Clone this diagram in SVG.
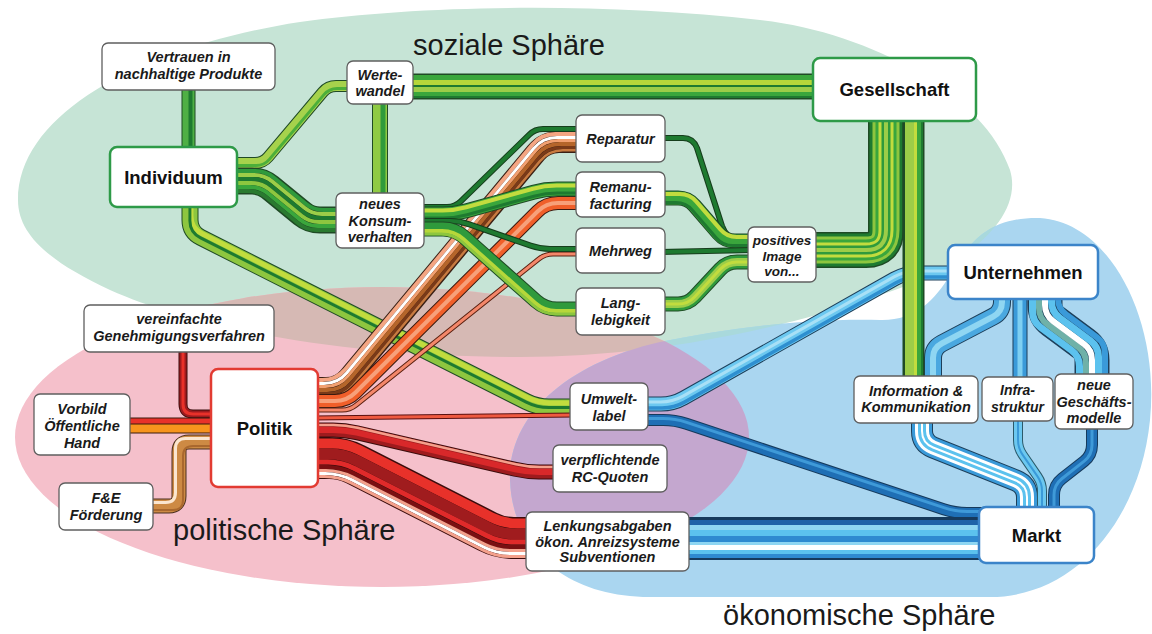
<svg xmlns="http://www.w3.org/2000/svg" xmlns:xlink="http://www.w3.org/1999/xlink" width="1152" height="634" viewBox="0 0 1152 634">
<style>
.c{fill:none;stroke-linejoin:round;stroke-linecap:butt}
.box{fill:#fff;stroke:#5f5f5f;stroke-width:1.3}
.gb{fill:#fff;stroke:#2e9a48;stroke-width:2.5}
.rb{fill:#fff;stroke:#e23b32;stroke-width:2.5}
.bb{fill:#fff;stroke:#3b84c9;stroke-width:2.5}
.t{font-family:"Liberation Sans",Arial,sans-serif;font-size:14.5px;font-weight:bold;font-style:italic;text-anchor:middle;fill:#1a1a1a}
.tm{font-family:"Liberation Sans",Arial,sans-serif;font-size:18.5px;font-weight:bold;text-anchor:middle;fill:#111}
.sph{font-family:"Liberation Sans",Arial,sans-serif;font-size:29px;fill:#1a1a1a}
</style>
<defs>
<path id="gShape" d="M18,200 C18,110 150,45 300,22 C420,5 600,2 760,20 C870,32 985,95 1010,170 C1025,220 960,270 880,295 C780,330 650,357 520,357 C350,357 200,330 110,290 C50,262 18,235 18,200 Z"/>
<ellipse id="pShape" cx="382" cy="437" rx="367" ry="150"/>
<path id="bShape" d="M510,480 C508,420 560,365 660,342 C720,330 800,318 880,320 C915,321 935,300 950,275 C970,240 990,217 1040,218 C1110,222 1160,320 1150,420 C1140,520 1075,597 990,597 L650,597 C565,597 512,548 510,480 Z"/>
<clipPath id="clipG"><use href="#gShape"/></clipPath>
<clipPath id="clipB"><use href="#bShape"/></clipPath>
<path id="pG2" d="M232,163 H255 Q263,163 268.2,156.9 L322.8,92.1 Q328,86 336,86 H352"/>
<path id="pG3" d="M232,181 H252 Q262,181 269.8,187.3 L302.2,213.7 Q310,220 320,220 H341"/>
<path id="pG6" d="M190,203 V220 Q190,232 200.7,237.4 L526.3,401.6 Q537,407 549,407 H575"/>
<path id="pG7" d="M419,207 H447 Q455,207 460.7,201.4 L529.3,134.6 Q535,129 543,129 H581"/>
<path id="pG8" d="M419,214 H443 Q455,214 466.6,210.8 L533.4,192.2 Q545,189 557,189 H581"/>
<path id="pG9" d="M419,221 H450 Q460,221 469.4,224.3 L530.6,245.7 Q540,249 550,249 H581"/>
<path id="pG10" d="M419,229 H443 Q455,229 464,237 L536,301 Q545,309 557,309 H581"/>
<path id="pG11" d="M660,138 H683 Q693,138 697,148 L722,226 Q727,240 740,240 H753"/>
<path id="pG12" d="M660,198 H678 Q688,198 694.5,205.6 L718.5,233.4 Q725,241 735,241 H753"/>
<path id="pG13" d="M660,252 L753,250"/>
<path id="pG14" d="M660,304 H678 Q688,304 694.8,296.7 L720.2,269.3 Q727,262 737,262 H753"/>
<path id="pG15" d="M811,250 H866 Q886,250 886,230 V116"/>
<path id="pB1" d="M643,404 H661 Q673,404 683.5,398.1 L894.5,278.9 Q905,273 917,273 H953"/>
<path id="pB2" d="M643,420 H663 Q675,420 686.4,423.8 L943.6,509.2 Q955,513 967,513 H984"/>
<path id="pB4" d="M1002,294 V302 Q1002,312 993.1,316.6 L941.9,343.4 Q933,348 933,358 V381"/>
<path id="pB6" d="M1045,288 V305 Q1045,315 1053,321 L1084,344 Q1092,350 1092,360 V384"/>
<path id="pB7" d="M922,418 V431 Q922,443 933.1,447.5 L1015.9,480.5 Q1027,485 1027,497 V512"/>
<path id="pB8" d="M1018,416 V440 Q1018,448 1022.5,454.6 L1037.5,476.4 Q1042,483 1042,491 V512"/>
<path id="pB9" d="M1092,424 V445 Q1092,455 1084.2,461.2 L1061.8,478.8 Q1054,485 1054,495 V512"/>
<path id="pR1" d="M183,347 V404 Q183,414 193,414 H216"/>
<path id="pR3" d="M148,506 H169 Q179,506 179,496 V452 Q179,442 189,442 H216"/>
<path id="pR4" d="M313,388 H326 Q340,388 349,377.2 L536,152.8 Q545,142 559,142 H581"/>
<path id="pR5" d="M313,401 H335 Q347,401 355.5,392.5 L537.5,211.5 Q546,203 558,203 H581"/>
<path id="pR6" d="M313,410 H342 Q350,410 356.2,405 L538.8,259 Q545,254 553,254 H581"/>
<path id="pR7" d="M313,418 L575,415"/>
<path id="pR8" d="M313,430 H333 Q345,430 356.7,432.7 L515.3,469.3 Q527,472 539,472 H558"/>
<path id="pR9" d="M313,458 H329 Q343,458 355.5,464.4 L487.5,531.6 Q500,538 514,538 H531"/>
</defs>

<g id="spheres">
<use href="#gShape" fill="#c6e4d6"/>
<use href="#pShape" fill="#f5c0cb"/>
<use href="#bShape" fill="#aad6f0"/>
<use href="#bShape" fill="#a9d9dc" clip-path="url(#clipG)"/>
<use href="#pShape" fill="#d6b9b4" clip-path="url(#clipG)"/>
<use href="#pShape" fill="#c4a7cf" clip-path="url(#clipB)"/>
<text class="sph" x="413" y="55">soziale Sphäre</text>
<text class="sph" x="173" y="540">politische Sphäre</text>
<text class="sph" x="723" y="625">ökonomische Sphäre</text>
</g>

<g id="connectors">
<!-- Individuum -> Umweltlabel (under red) -->
<use href="#pG6" class="c" stroke="#1f4a25" stroke-width="17"/>
<use href="#pG6" class="c" stroke="#8dc63f" stroke-width="15"/>
<use href="#pG6" class="c" stroke="#c2dc3e" stroke-width="5" transform="translate(0.95,-4)"/>
<use href="#pG6" class="c" stroke="#1e7a30" stroke-width="3" transform="translate(-0.12,0.5)"/>

<!-- red / orange -->
<use href="#pR1" class="c" stroke="#3a0c0c" stroke-width="9"/>
<use href="#pR1" class="c" stroke="#9e1b1e" stroke-width="7"/>
<use href="#pR1" class="c" stroke="#e8312a" stroke-width="3"/>
<path class="c" d="M125,425.5 H216" stroke="#3a1a0c" stroke-width="16"/>
<path class="c" d="M125,421 H216" stroke="#e8312a" stroke-width="5"/>
<path class="c" d="M125,428.5 H216" stroke="#f7941d" stroke-width="8"/>
<use href="#pR3" class="c" stroke="#4a3020" stroke-width="15"/>
<use href="#pR3" class="c" stroke="#cd8a44" stroke-width="13"/>
<use href="#pR3" class="c" stroke="#fbe6cf" stroke-width="3" transform="translate(-3.5,-3.5)"/>
<use href="#pR3" class="c" stroke="#a9682e" stroke-width="2" transform="translate(4,4)"/>
<use href="#pR4" class="c" stroke="#3a2015" stroke-width="22"/>
<use href="#pR4" class="c" stroke="#f4a582" stroke-width="4" transform="translate(-3.74,-8)"/>
<use href="#pR4" class="c" stroke="#ffffff" stroke-width="3" transform="translate(-2.1,-4.5)"/>
<use href="#pR4" class="c" stroke="#f2a070" stroke-width="3" transform="translate(-0.7,-1.5)"/>
<use href="#pR4" class="c" stroke="#b5652a" stroke-width="4" transform="translate(0.94,2)"/>
<use href="#pR4" class="c" stroke="#7a3a18" stroke-width="3" transform="translate(2.57,5.5)"/>
<use href="#pR4" class="c" stroke="#c87a40" stroke-width="2.5" transform="translate(3.9,8.3)"/>
<use href="#pR5" class="c" stroke="#3a1a10" stroke-width="14"/>
<use href="#pR5" class="c" stroke="#f05f2a" stroke-width="12"/>
<use href="#pR5" class="c" stroke="#f7a07a" stroke-width="4"/>
<use href="#pR6" class="c" stroke="#5a2010" stroke-width="5"/>
<use href="#pR6" class="c" stroke="#f4876a" stroke-width="3"/>
<use href="#pR7" class="c" stroke="#5a1010" stroke-width="5"/>
<use href="#pR7" class="c" stroke="#ee5a40" stroke-width="3"/>
<use href="#pR8" class="c" stroke="#3a0c0c" stroke-width="15"/>
<use href="#pR8" class="c" stroke="#9e1b1e" stroke-width="13"/>
<use href="#pR8" class="c" stroke="#d8282a" stroke-width="6"/>
<use href="#pR8" class="c" stroke="#f4a08c" stroke-width="2.5" transform="translate(0.56,-5)"/>
<use href="#pR9" class="c" stroke="#3a0c0c" stroke-width="42"/>
<use href="#pR9" class="c" stroke="#e8312a" stroke-width="10" transform="translate(3.5,-14.5)"/>
<use href="#pR9" class="c" stroke="#a01c1e" stroke-width="11" transform="translate(0.96,-4)"/>
<use href="#pR9" class="c" stroke="#e02a2a" stroke-width="5" transform="translate(-0.96,4)"/>
<use href="#pR9" class="c" stroke="#7a1012" stroke-width="4" transform="translate(-2.16,9)"/>
<use href="#pR9" class="c" stroke="#f4a08c" stroke-width="3" transform="translate(-3,12.5)"/>
<use href="#pR9" class="c" stroke="#ffffff" stroke-width="3" transform="translate(-3.72,15.5)"/>
<use href="#pR9" class="c" stroke="#f4a08c" stroke-width="3" transform="translate(-4.44,18.5)"/>

<!-- green -->
<path class="c" d="M188.5,86 V151" stroke="#1f4a25" stroke-width="14"/>
<path class="c" d="M188.5,86 V151" stroke="#4faf45" stroke-width="12"/>
<path class="c" d="M190.5,86 V151" stroke="#1e7a30" stroke-width="4"/>
<use href="#pG2" class="c" stroke="#1f4a25" stroke-width="12"/>
<use href="#pG2" class="c" stroke="#a6d24c" stroke-width="10"/>
<use href="#pG2" class="c" stroke="#4caf3a" stroke-width="3" transform="translate(1.16,2.5)"/>
<use href="#pG3" class="c" stroke="#1f4a25" stroke-width="27"/>
<use href="#pG3" class="c" stroke="#2f9a3c" stroke-width="4" transform="translate(3.55,-10)"/>
<use href="#pG3" class="c" stroke="#9ccd48" stroke-width="4" transform="translate(2.13,-6)"/>
<use href="#pG3" class="c" stroke="#1e7a30" stroke-width="4" transform="translate(0.71,-2)"/>
<use href="#pG3" class="c" stroke="#8dc63f" stroke-width="4" transform="translate(-0.71,2)"/>
<use href="#pG3" class="c" stroke="#3aa63c" stroke-width="4" transform="translate(-2.13,6)"/>
<use href="#pG3" class="c" stroke="#2a7a30" stroke-width="4" transform="translate(-3.55,10)"/>
<path class="c" d="M408,86.5 H818" stroke="#1f4a25" stroke-width="26"/>
<path class="c" d="M408,77.5 H818" stroke="#3aa63c" stroke-width="5"/>
<path class="c" d="M408,82.5 H818" stroke="#b6d73a" stroke-width="5"/>
<path class="c" d="M408,86 H818" stroke="#1e7a30" stroke-width="2"/>
<path class="c" d="M408,89.5 H818" stroke="#9ccd48" stroke-width="5"/>
<path class="c" d="M408,94 H818" stroke="#3aa63c" stroke-width="4"/>
<path class="c" d="M408,97 H818" stroke="#1e7a30" stroke-width="2"/>
<path class="c" d="M380,100 V197" stroke="#1f4a25" stroke-width="16"/>
<path class="c" d="M380,100 V197" stroke="#8fca44" stroke-width="14"/>
<path class="c" d="M383,100 V197" stroke="#2f9a3c" stroke-width="5"/>
<use href="#pG7" class="c" stroke="#163d1c" stroke-width="6"/>
<use href="#pG7" class="c" stroke="#1e7a30" stroke-width="4"/>
<use href="#pG8" class="c" stroke="#1f4a25" stroke-width="15"/>
<use href="#pG8" class="c" stroke="#3aa63c" stroke-width="13"/>
<use href="#pG8" class="c" stroke="#c2dc3e" stroke-width="4" transform="translate(-0.48,-3.5)"/>
<use href="#pG8" class="c" stroke="#1e7a30" stroke-width="3" transform="translate(0.55,4)"/>
<use href="#pG9" class="c" stroke="#163d1c" stroke-width="6"/>
<use href="#pG9" class="c" stroke="#1e7a30" stroke-width="4"/>
<use href="#pG10" class="c" stroke="#1f4a25" stroke-width="15"/>
<use href="#pG10" class="c" stroke="#2f9a3c" stroke-width="13"/>
<use href="#pG10" class="c" stroke="#b6d73a" stroke-width="4" transform="translate(-0.76,2)"/>
<use href="#pG10" class="c" stroke="#8dc63f" stroke-width="3" transform="translate(-1.9,5)"/>
<use href="#pG11" class="c" stroke="#163d1c" stroke-width="6"/>
<use href="#pG11" class="c" stroke="#1e7a30" stroke-width="4"/>
<use href="#pG12" class="c" stroke="#1f4a25" stroke-width="15"/>
<use href="#pG12" class="c" stroke="#3aa63c" stroke-width="13"/>
<use href="#pG12" class="c" stroke="#c2dc3e" stroke-width="4" transform="translate(1.84,-4)"/>
<use href="#pG12" class="c" stroke="#1e7a30" stroke-width="3" transform="translate(-2.07,4.5)"/>
<use href="#pG13" class="c" stroke="#163d1c" stroke-width="6"/>
<use href="#pG13" class="c" stroke="#1e7a30" stroke-width="4"/>
<use href="#pG14" class="c" stroke="#1f4a25" stroke-width="15"/>
<use href="#pG14" class="c" stroke="#2f9a3c" stroke-width="13"/>
<use href="#pG14" class="c" stroke="#9ccd48" stroke-width="8"/>
<use href="#pG14" class="c" stroke="#c2dc3e" stroke-width="3"/>

<!-- blue -->
<use href="#pB1" class="c" stroke="#1d3f5a" stroke-width="15"/>
<use href="#pB1" class="c" stroke="#6cc8f0" stroke-width="13"/>
<use href="#pB1" class="c" stroke="#a8e0f6" stroke-width="3" transform="translate(-0.52,-2)"/>
<use href="#pB1" class="c" stroke="#2e8fd0" stroke-width="3.5" transform="translate(1.05,4)"/>
<use href="#pB2" class="c" stroke="#163a5c" stroke-width="12"/>
<use href="#pB2" class="c" stroke="#1f6fb5" stroke-width="10"/>
<use href="#pB2" class="c" stroke="#3f9ad8" stroke-width="3" transform="translate(0.24,-1.5)"/>
<path class="c" d="M684,538.5 H984" stroke="#163a5c" stroke-width="43"/>
<path class="c" d="M684,522.5 H984" stroke="#1f63a8" stroke-width="5"/>
<path class="c" d="M684,527.5 H984" stroke="#8fd6f2" stroke-width="5"/>
<path class="c" d="M684,533 H984" stroke="#5cc2ee" stroke-width="6"/>
<path class="c" d="M684,539 H984" stroke="#2f8ad0" stroke-width="6"/>
<path class="c" d="M684,543.5 H984" stroke="#8fd6f2" stroke-width="3"/>
<path class="c" d="M684,547.5 H984" stroke="#ffffff" stroke-width="5"/>
<path class="c" d="M684,552 H984" stroke="#5cc2ee" stroke-width="4"/>
<path class="c" d="M684,556 H984" stroke="#2f8ad0" stroke-width="4"/>
<use href="#pB4" class="c" stroke="#1d3f5a" stroke-width="18"/>
<use href="#pB4" class="c" stroke="#4aa8e0" stroke-width="16"/>
<use href="#pB4" class="c" stroke="#8fd6f2" stroke-width="6"/>
<path class="c" d="M1020,294 V382" stroke="#1d3f5a" stroke-width="15"/>
<path class="c" d="M1020,294 V382" stroke="#3a9ad9" stroke-width="13"/>
<path class="c" d="M1020,294 V382" stroke="#7fd0f2" stroke-width="5"/>
<use href="#pB6" class="c" stroke="#1d3f5a" stroke-width="35"/>
<use href="#pB6" class="c" stroke="#5cc2ee" stroke-width="7" transform="translate(-12.5,6.29)"/>
<use href="#pB6" class="c" stroke="#6fb1a8" stroke-width="6" transform="translate(-6,3.02)"/>
<use href="#pB6" class="c" stroke="#ffffff" stroke-width="6"/>
<use href="#pB6" class="c" stroke="#5cc2ee" stroke-width="7" transform="translate(6.5,-3.27)"/>
<use href="#pB6" class="c" stroke="#3a9ad9" stroke-width="6" transform="translate(13,-6.54)"/>
<use href="#pB7" class="c" stroke="#1d3f5a" stroke-width="22"/>
<use href="#pB7" class="c" stroke="#3a9ad9" stroke-width="20"/>
<use href="#pB7" class="c" stroke="#ffffff" stroke-width="14"/>
<use href="#pB7" class="c" stroke="#5cc2ee" stroke-width="8"/>
<use href="#pB7" class="c" stroke="#ffffff" stroke-width="2"/>
<use href="#pB8" class="c" stroke="#2b5a6a" stroke-width="10"/>
<use href="#pB8" class="c" stroke="#6cc8f0" stroke-width="8"/>
<use href="#pB8" class="c" stroke="#3a9ad9" stroke-width="2"/>
<use href="#pB9" class="c" stroke="#163a5c" stroke-width="12"/>
<use href="#pB9" class="c" stroke="#1f6fb5" stroke-width="10"/>
<use href="#pB9" class="c" stroke="#3f9ad8" stroke-width="3"/>

<!-- Gesellschaft bundles (top) -->
<use href="#pG15" class="c" stroke="#1f4a25" stroke-width="36"/>
<use href="#pG15" class="c" stroke="#1e7a30" stroke-width="33"/>
<use href="#pG15" class="c" stroke="#8dc63f" stroke-width="27"/>
<use href="#pG15" class="c" stroke="#3aa63c" stroke-width="21"/>
<use href="#pG15" class="c" stroke="#c2dc3e" stroke-width="15"/>
<use href="#pG15" class="c" stroke="#2f9a3c" stroke-width="9"/>
<use href="#pG15" class="c" stroke="#9ccd48" stroke-width="4"/>
<path class="c" d="M913.5,116 V381" stroke="#1f4a25" stroke-width="22"/>
<path class="c" d="M909.5,116 V381" stroke="#9ccd48" stroke-width="9"/>
<path class="c" d="M915.5,116 V381" stroke="#c2dc3e" stroke-width="3"/>
<path class="c" d="M919,116 V381" stroke="#3aa63c" stroke-width="4"/>
<path class="c" d="M922,116 V381" stroke="#1e7a30" stroke-width="2"/>
</g>

<g id="n-vertrauen"><rect class="box" x="102" y="43" width="173" height="47" rx="6"/><text class="t" x="188.5" y="62">Vertrauen in</text><text class="t" x="188.5" y="79">nachhaltige Produkte</text></g>
<g id="n-werte"><rect class="box" x="347" y="61" width="66" height="43" rx="6"/><text class="t" x="380" y="79.5">Werte-</text><text class="t" x="380" y="96">wandel</text></g>
<g id="n-individuum"><rect class="gb" x="110" y="147" width="127" height="60" rx="7"/><text class="tm" x="173.5" y="183.5">Individuum</text></g>
<g id="n-konsum"><rect class="box" x="336" y="193" width="88" height="55" rx="6"/><text class="t" x="380" y="208.5">neues</text><text class="t" x="380" y="225.5">Konsum-</text><text class="t" x="380" y="242">verhalten</text></g>
<g id="n-reparatur"><rect class="box" x="576" y="115" width="89" height="47" rx="6"/><text class="t" x="620.5" y="144">Reparatur</text></g>
<g id="n-remanu"><rect class="box" x="576" y="172" width="89" height="45" rx="6"/><text class="t" x="620.5" y="192">Remanu-</text><text class="t" x="620.5" y="208.5">facturing</text></g>
<g id="n-mehrweg"><rect class="box" x="576" y="228" width="89" height="45" rx="6"/><text class="t" x="620.5" y="256">Mehrweg</text></g>
<g id="n-lang"><rect class="box" x="576" y="288" width="89" height="47" rx="6"/><text class="t" x="620.5" y="308">Lang-</text><text class="t" x="620.5" y="325">lebigkeit</text></g>
<g id="n-image"><rect class="box" x="748" y="227" width="68" height="55" rx="6"/><text class="t" x="782" y="245" style="font-size:13.5px">positives</text><text class="t" x="782" y="260.5" style="font-size:13.5px">Image</text><text class="t" x="782" y="276" style="font-size:13.5px">von...</text></g>
<g id="n-gesellschaft"><rect class="gb" x="813" y="58" width="163" height="63" rx="7"/><text class="tm" x="894.5" y="96">Gesellschaft</text></g>
<g id="n-unternehmen"><rect class="bb" x="948" y="245" width="150" height="54" rx="7"/><text class="tm" x="1023" y="278.5">Unternehmen</text></g>
<g id="n-info"><rect class="box" x="854" y="376" width="124" height="47" rx="6"/><text class="t" x="916" y="395.5">Information &amp;</text><text class="t" x="916" y="412">Kommunikation</text></g>
<g id="n-infra"><rect class="box" x="982" y="377" width="71" height="44" rx="6"/><text class="t" x="1017.5" y="395" style="font-size:14px">Infra-</text><text class="t" x="1017.5" y="411.5" style="font-size:14px">struktur</text></g>
<g id="n-geschaeft"><rect class="box" x="1055" y="374" width="78" height="55" rx="6"/><text class="t" x="1094" y="390">neue</text><text class="t" x="1094" y="406.5">Geschäfts-</text><text class="t" x="1094" y="422.5">modelle</text></g>
<g id="n-markt"><rect class="bb" x="979" y="507" width="115" height="56" rx="7"/><text class="tm" x="1036.5" y="541.5">Markt</text></g>
<g id="n-umwelt"><rect class="box" x="570" y="383" width="78" height="47" rx="6"/><text class="t" x="609" y="404">Umwelt-</text><text class="t" x="609" y="421">label</text></g>
<g id="n-rc"><rect class="box" x="553" y="445" width="114" height="47" rx="6"/><text class="t" x="610" y="465">verpflichtende</text><text class="t" x="610" y="481.5">RC-Quoten</text></g>
<g id="n-lenkung"><rect class="box" x="526" y="512" width="163" height="59" rx="6"/><text class="t" x="607.5" y="531">Lenkungsabgaben</text><text class="t" x="607.5" y="546.5">ökon. Anreizsysteme</text><text class="t" x="607.5" y="562">Subventionen</text></g>
<g id="n-politik"><rect class="rb" x="211" y="369" width="107" height="118" rx="7"/><text class="tm" x="264.5" y="434.5">Politik</text></g>
<g id="n-genehm"><rect class="box" x="84" y="305" width="190" height="47" rx="6"/><text class="t" x="179" y="324">vereinfachte</text><text class="t" x="179" y="340.5">Genehmigungsverfahren</text></g>
<g id="n-vorbild"><rect class="box" x="34" y="394" width="96" height="61" rx="6"/><text class="t" x="82" y="414">Vorbild</text><text class="t" x="82" y="431">Öffentliche</text><text class="t" x="82" y="447.5">Hand</text></g>
<g id="n-fe"><rect class="box" x="59" y="483" width="94" height="47" rx="6"/><text class="t" x="106" y="503">F&amp;E</text><text class="t" x="106" y="520">Förderung</text></g>
</svg>
